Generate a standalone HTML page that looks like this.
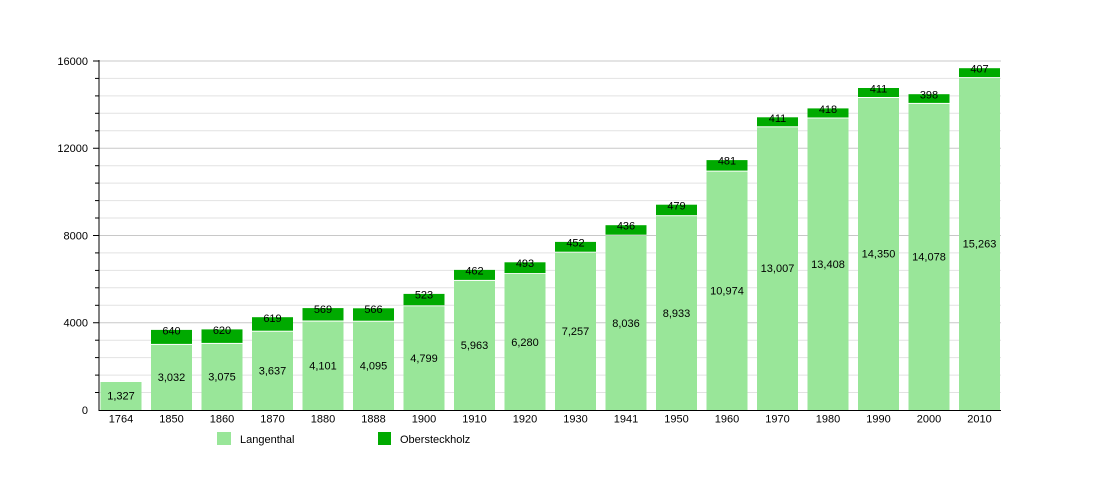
<!DOCTYPE html>
<html><head><meta charset="utf-8"><style>html,body{margin:0;padding:0;background:#fff}svg{display:block}text{font-family:"Liberation Sans",sans-serif;font-size:11px;fill:#000}</style></head>
<body>
<svg width="1100" height="500" xmlns="http://www.w3.org/2000/svg">
<g stroke="#e2e2e2" stroke-width="1">
<line x1="99" x2="1001" y1="392.5" y2="392.5"/><line x1="99" x2="1001" y1="375.1" y2="375.1"/><line x1="99" x2="1001" y1="357.6" y2="357.6"/><line x1="99" x2="1001" y1="340.2" y2="340.2"/>
<line x1="99" x2="1001" y1="305.3" y2="305.3"/><line x1="99" x2="1001" y1="287.8" y2="287.8"/><line x1="99" x2="1001" y1="270.4" y2="270.4"/><line x1="99" x2="1001" y1="252.9" y2="252.9"/>
<line x1="99" x2="1001" y1="218.0" y2="218.0"/><line x1="99" x2="1001" y1="200.6" y2="200.6"/><line x1="99" x2="1001" y1="183.1" y2="183.1"/><line x1="99" x2="1001" y1="165.7" y2="165.7"/>
<line x1="99" x2="1001" y1="130.8" y2="130.8"/><line x1="99" x2="1001" y1="113.3" y2="113.3"/><line x1="99" x2="1001" y1="95.9" y2="95.9"/><line x1="99" x2="1001" y1="78.4" y2="78.4"/>
</g>
<g stroke="#c8c8c8" stroke-width="1">
<line x1="99" x2="1001" y1="322.75" y2="322.75"/><line x1="99" x2="1001" y1="235.5" y2="235.5"/><line x1="99" x2="1001" y1="148.25" y2="148.25"/><line x1="99" x2="1001" y1="61" y2="61"/>
</g>
<g stroke="#000" stroke-width="1">
<line x1="95" x2="99" y1="392.5" y2="392.5"/><line x1="95" x2="99" y1="375.1" y2="375.1"/><line x1="95" x2="99" y1="357.6" y2="357.6"/><line x1="95" x2="99" y1="340.2" y2="340.2"/>
<line x1="95" x2="99" y1="305.3" y2="305.3"/><line x1="95" x2="99" y1="287.8" y2="287.8"/><line x1="95" x2="99" y1="270.4" y2="270.4"/><line x1="95" x2="99" y1="252.9" y2="252.9"/>
<line x1="95" x2="99" y1="218.0" y2="218.0"/><line x1="95" x2="99" y1="200.6" y2="200.6"/><line x1="95" x2="99" y1="183.1" y2="183.1"/><line x1="95" x2="99" y1="165.7" y2="165.7"/>
<line x1="95" x2="99" y1="130.8" y2="130.8"/><line x1="95" x2="99" y1="113.3" y2="113.3"/><line x1="95" x2="99" y1="95.9" y2="95.9"/><line x1="95" x2="99" y1="78.4" y2="78.4"/>
<line x1="93" x2="99" y1="322.75" y2="322.75"/><line x1="93" x2="99" y1="235.5" y2="235.5"/><line x1="93" x2="99" y1="148.25" y2="148.25"/><line x1="93" x2="99" y1="61" y2="61"/>
</g>
<g>
<!-- light bars -->
<g fill="#99e699">
<rect x="100.5" y="382" width="41" height="28"/>
<rect x="151" y="344.9" width="41" height="65.1"/>
<rect x="201.5" y="343.9" width="41" height="66.1"/>
<rect x="252" y="331.7" width="41" height="78.3"/>
<rect x="302.5" y="321.6" width="41" height="88.4"/>
<rect x="353" y="321.7" width="41" height="88.3"/>
<rect x="403.5" y="306.3" width="41" height="103.7"/>
<rect x="454" y="280.9" width="41" height="129.1"/>
<rect x="504.5" y="274" width="41" height="136"/>
<rect x="555" y="252.7" width="41" height="157.3"/>
<rect x="605.5" y="235.7" width="41" height="174.3"/>
<rect x="656" y="216.2" width="41" height="193.8"/>
<rect x="706.5" y="171.6" width="41" height="238.4"/>
<rect x="757" y="127.3" width="41" height="282.7"/>
<rect x="807.5" y="118.5" width="41" height="291.5"/>
<rect x="858" y="98" width="41" height="312"/>
<rect x="908.5" y="103.9" width="41" height="306.1"/>
<rect x="959" y="78.1" width="41" height="331.9"/>
</g>
<g fill="#00aa00">
<rect x="151" y="329.9" width="41" height="14"/>
<rect x="201.5" y="329.4" width="41" height="13.5"/>
<rect x="252" y="317.2" width="41" height="13.5"/>
<rect x="302.5" y="308.1" width="41" height="12.4"/>
<rect x="353" y="308.3" width="41" height="12.4"/>
<rect x="403.5" y="293.9" width="41" height="11.4"/>
<rect x="454" y="269.9" width="41" height="10"/>
<rect x="504.5" y="262.3" width="41" height="10.8"/>
<rect x="555" y="241.9" width="41" height="9.8"/>
<rect x="605.5" y="225.2" width="41" height="9.5"/>
<rect x="656" y="204.7" width="41" height="10.5"/>
<rect x="706.5" y="160.1" width="41" height="10.5"/>
<rect x="757" y="117.3" width="41" height="9"/>
<rect x="807.5" y="108.4" width="41" height="9.1"/>
<rect x="858" y="88" width="41" height="9"/>
<rect x="908.5" y="94.2" width="41" height="8.7"/>
<rect x="959" y="68.2" width="41" height="8.9"/>
</g>
</g>
<line x1="99" x2="99" y1="60" y2="410.5" stroke="#000"/>
<line x1="98.5" x2="1001" y1="410.5" y2="410.5" stroke="#000"/>
<g text-anchor="middle">
<text x="121" y="399.5">1,327</text>
<text x="171.5" y="381">3,032</text>
<text x="222" y="380.5">3,075</text>
<text x="272.5" y="374.5">3,637</text>
<text x="323" y="369.5">4,101</text>
<text x="373.5" y="369.5">4,095</text>
<text x="424" y="362">4,799</text>
<text x="474.5" y="349">5,963</text>
<text x="525" y="346">6,280</text>
<text x="575.5" y="335">7,257</text>
<text x="626" y="327">8,036</text>
<text x="676.5" y="317">8,933</text>
<text x="727" y="294.5">10,974</text>
<text x="777.5" y="272">13,007</text>
<text x="828" y="268">13,408</text>
<text x="878.5" y="257.5">14,350</text>
<text x="929" y="260.5">14,078</text>
<text x="979.5" y="247.5">15,263</text>
<text x="171.5" y="334.5">640</text>
<text x="222" y="334">620</text>
<text x="272.5" y="322">619</text>
<text x="323" y="313">569</text>
<text x="373.5" y="313">566</text>
<text x="424" y="298.5">523</text>
<text x="474.5" y="274.5">462</text>
<text x="525" y="267">493</text>
<text x="575.5" y="246.5">452</text>
<text x="626" y="229.5">436</text>
<text x="676.5" y="209.5">479</text>
<text x="727" y="164.5">481</text>
<text x="777.5" y="122">411</text>
<text x="828" y="113">418</text>
<text x="878.5" y="92.5">411</text>
<text x="929" y="98.5">398</text>
<text x="979.5" y="72.5">407</text>
<text x="121" y="422.5">1764</text>
<text x="171.5" y="422.5">1850</text>
<text x="222" y="422.5">1860</text>
<text x="272.5" y="422.5">1870</text>
<text x="323" y="422.5">1880</text>
<text x="373.5" y="422.5">1888</text>
<text x="424" y="422.5">1900</text>
<text x="474.5" y="422.5">1910</text>
<text x="525" y="422.5">1920</text>
<text x="575.5" y="422.5">1930</text>
<text x="626" y="422.5">1941</text>
<text x="676.5" y="422.5">1950</text>
<text x="727" y="422.5">1960</text>
<text x="777.5" y="422.5">1970</text>
<text x="828" y="422.5">1980</text>
<text x="878.5" y="422.5">1990</text>
<text x="929" y="422.5">2000</text>
<text x="979.5" y="422.5">2010</text>
</g>
<g text-anchor="end">
<text x="88" y="414">0</text>
<text x="88" y="326.5">4000</text>
<text x="88" y="239.5">8000</text>
<text x="88" y="152">12000</text>
<text x="88" y="65">16000</text>
</g>
<rect x="217" y="432" width="14" height="13" fill="#99e699"/>
<text x="240" y="443">Langenthal</text>
<rect x="378" y="432" width="13" height="13" fill="#00aa00"/>
<text x="400" y="443">Obersteckholz</text>
</svg>
</body></html>
